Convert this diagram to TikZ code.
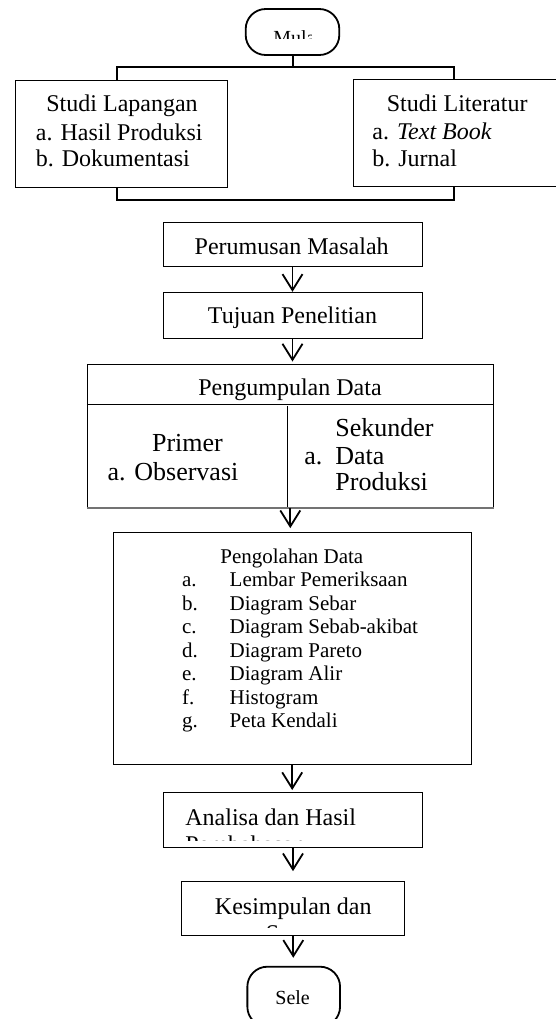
\documentclass[tikz,border=0pt]{standalone}
\usepackage{fontspec}
\setmainfont{Liberation Serif}
\usetikzlibrary{arrows.meta,positioning,calc}

\begin{document}
\begin{tikzpicture}[
  x=0.5pt,y=-0.5pt,
  box/.style={draw,line width=0.5pt,inner sep=0pt},
  term/.style={draw,line width=0.9pt,rounded corners=10pt,inner sep=0pt},
  ar/.style={-{Straight Barb[length=8pt,width=10pt]},line width=0.9pt},
  brk/.style={line width=1pt},
  lbl/.style={anchor=base west,inner sep=0pt,font=\fontsize{12}{14}\selectfont},
  lblc/.style={lbl,anchor=base},
  lblb/.style={lbl,font=\fontsize{13}{15}\selectfont},
  lbls/.style={lbl,font=\fontsize{10.5}{12}\selectfont},
  lblt/.style={lbl,font=\fontsize{10}{12}\selectfont}
]
\clip (0,0) rectangle (556,1019);
% start
\node[term,minimum width=46.8pt,minimum height=23pt] (mulai) at (292.5,32) {};
\begin{scope}
  \clip (255,25) rectangle (311,38.5);
  \node[lblt] (mulaitxt) at (273,44.7) {Mulai};
\end{scope}
% studi lapangan / literatur
\node[box,minimum width=105.7pt,minimum height=53.65pt] (lapangan) at (121.3,133.7) {};
\node[lbl] (lap1) at (46,111.7) {Studi Lapangan};
\node[lbl] (lap2) at (35.5,140) {a. Hasil Produksi};
\node[lbl] (lap3) at (35.5,166) {b. Dokumentasi};
\node[box,minimum width=108.5pt,minimum height=53.5pt] (literatur) at (461.5,132.5) {};
\node[lbl] (lit1) at (386.5,111.5) {Studi Literatur};
\node[lbl] (lit2) at (372,139) {a. \textit{Text Book}};
\node[lbl] (lit3) at (372,166) {b. Jurnal};
\coordinate (topL) at (117,67);
\coordinate (topR) at (454,67);
\coordinate (botL) at (117,200);
\coordinate (botR) at (454,200);
\draw[brk] (mulai.south) -- (mulai.south |- topL);
\draw[brk] (lapangan.north -| topL) -- (topL) -- (topR) -- (literatur.north -| topR);
\draw[brk] (lapangan.south -| botL) -- (botL) -- (botR) -- (literatur.south -| botR);
% perumusan, tujuan
\node[box,minimum width=129.5pt,minimum height=22pt] (perumusan) at (292.5,244.7) {};
\node[lblc] (perumusantxt) at (291.7,254) {Perumusan Masalah};
\node[box,minimum width=129.5pt,minimum height=23pt] (tujuan) at (292.5,315.3) {};
\node[lblc] (tujuantxt) at (292.5,323) {Tujuan Penelitian};
% pengumpulan data
\node[box,minimum width=203pt,minimum height=71.5pt] (kumpul) at (290.3,435.5) {};
\draw[line width=0.5pt] ($(kumpul.north west)+(0,41.3)$) -- ($(kumpul.north east)+(0,41.3)$);
\draw[line width=0.5pt] ($(kumpul.south)+(-3,0)$) -- ++(0,-101.7);
\draw[line width=1pt,black!55] (kumpul.south west) -- (kumpul.south east);
\node[lblc] (kumpultxt) at (290,395) {Pengumpulan Data};
\node[lblb] (primer1) at (151.7,451.7) {Primer};
\node[lblb] (primer2) at (107.3,480.7) {a. Observasi};
\node[lblb] (sekunder1) at (335,436.7) {Sekunder};
\node[lblb] (sekunder2a) at (304,464) {a.};
\node[lblb] (sekunder2) at (335,464) {Data};
\node[lblb] (sekunder3) at (335,490) {Produksi};
% pengolahan data
\node[box,minimum width=178.85pt,minimum height=116.15pt] (olah) at (292.2,648.8) {};
\node[lbls] (olahtxt) at (220,563) {Pengolahan Data};
\foreach \k/\t [count=\i] in {a./Lembar Pemeriksaan,b./Diagram Sebar,c./Diagram Sebab-akibat,d./Diagram Pareto,e./Diagram Alir,f./Histogram,g./Peta Kendali}{
  \node[lbls] (olahk\i) at (181.7,563+23.5*\i) {\k};
  \node[lbls] (olaht\i) at (229.3,563+23.5*\i) {\t};
}
% analisa, kesimpulan
\node[box,minimum width=129.7pt,minimum height=27.65pt] (analisa) at (293,820.2) {};
\node[lbl] (analisatxt) at (185,825) {Analisa dan Hasil};
\begin{scope}
  \clip (170,800) rectangle (415,840);
  \node[lbl] (analisatxt2) at (185,852) {Pembahasan};
\end{scope}
\node[box,minimum width=111.65pt,minimum height=27.15pt] (simpul) at (293.3,908.8) {};
\node[lblc] (simpultxt) at (293.3,914) {Kesimpulan dan};
\begin{scope}
  \clip (190,885) rectangle (400,927);
  \node[lblc] (simpultxt2) at (293.3,941) {Saran};
\end{scope}
% end
\node[term,minimum width=46.35pt,minimum height=30pt] (selesai) at (293.7,996.7) {};
\begin{scope}
  \clip (255,985) rectangle (309.5,1004.5);
  \node[lblt] (selesaitxt) at (275,1004.5) {Selesai};
\end{scope}
% arrows
\draw[ar] (perumusan.south) -- (perumusan.south |- tujuan.north);
\draw[ar,shorten >=1pt] (tujuan.south) -- (tujuan.south |- kumpul.north);
\draw[ar,shorten >=2pt] (kumpul.south) -- (kumpul.south |- olah.north);
\draw[ar,shorten >=1pt] (olah.south) -- (olah.south |- analisa.north);
\draw[ar,shorten >=5pt] (analisa.south) -- (analisa.south |- simpul.north);
\draw[ar,shorten >=4pt] (simpul.south) -- (simpul.south |- selesai.north);
\end{tikzpicture}
\end{document}
